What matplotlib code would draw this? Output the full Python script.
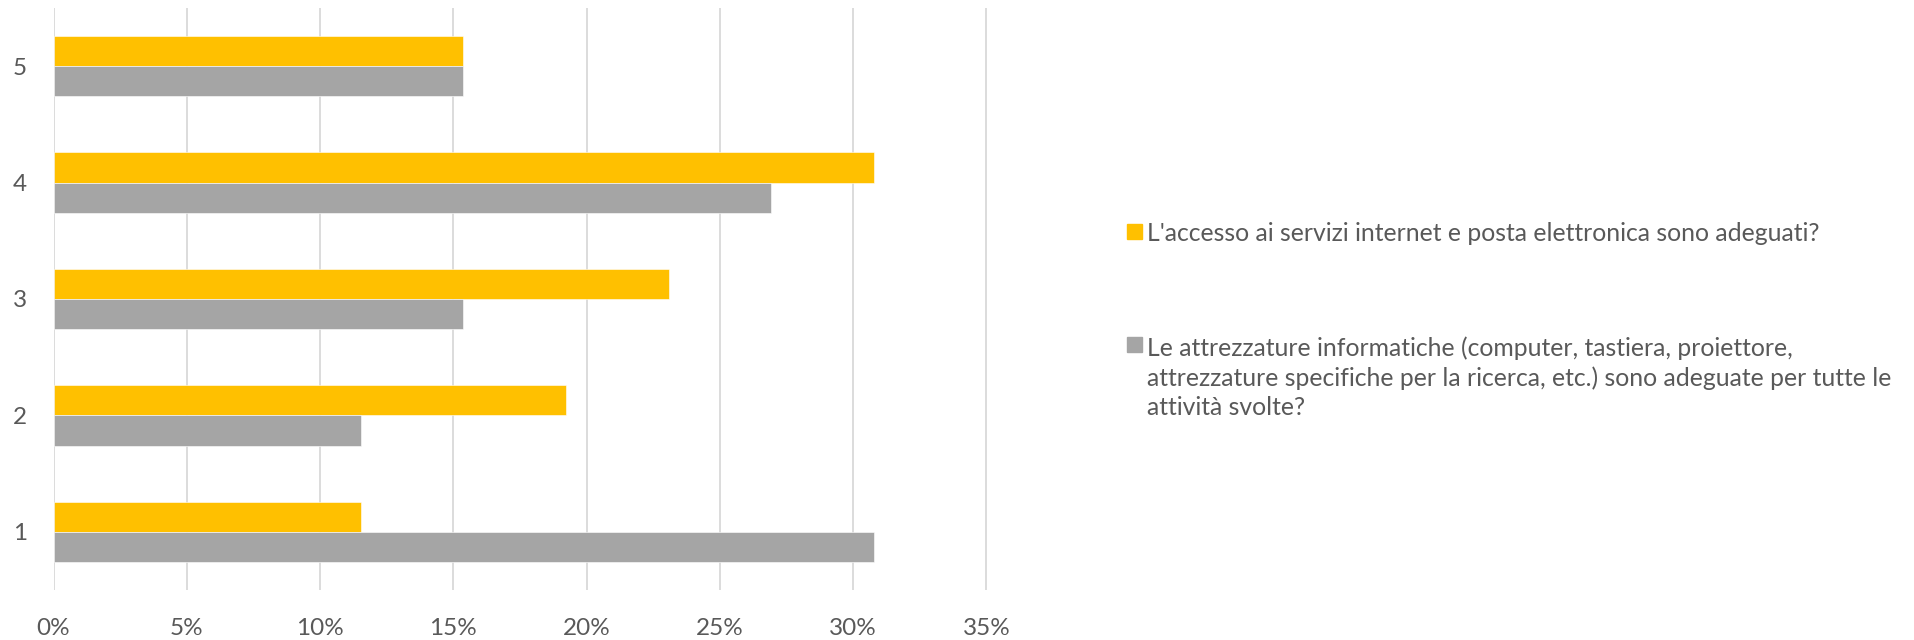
import matplotlib.pyplot as plt
from matplotlib.patches import Rectangle
from matplotlib.ticker import PercentFormatter

plt.rcParams['font.family'] = ['Lato', 'DejaVu Sans']

categories = ['1', '2', '3', '4', '5']
seriesNames = [
    "L'accesso ai servizi internet e posta elettronica sono adeguati?",
    "Le attrezzature informatiche (computer, tastiera, proiettore,\n"
    "attrezzature specifiche per la ricerca, etc.) sono adeguate per tutte le\n"
    "attività svolte?",
]
accessoVals = [11.54, 19.23, 23.08, 30.77, 15.38]
attrezzatureVals = [30.77, 11.54, 15.38, 26.92, 15.38]
xTicks = [0, 5, 10, 15, 20, 25, 30, 35]

orange = '#FFC000'
grey = '#A5A5A5'
textCol = '#595959'
barH = 0.26
W, H = 1914, 640

fig = plt.figure(figsize=(W / 100, H / 100), dpi=100)
ax = fig.add_axes([53.5 / W, 50 / H, 933 / W, 582 / H])

pos = range(1, len(categories) + 1)
ax.barh([p + barH / 2 for p in pos], accessoVals, height=barH, color=orange,
        edgecolor='white', linewidth=0.4, zorder=3)
ax.barh([p - barH / 2 for p in pos], attrezzatureVals, height=barH, color=grey,
        edgecolor='white', linewidth=0.4, zorder=3)

ax.set_xlim(0, 35)
ax.set_ylim(0.5, 5.5)
ax.set_xticks(xTicks)
ax.xaxis.set_major_formatter(PercentFormatter(decimals=0))
ax.set_yticks(list(pos))
ax.set_yticklabels(categories)
ax.grid(axis='x', color='#D9D9D9', linewidth=1.3, zorder=0)
for s in ax.spines.values():
    s.set_visible(False)
ax.tick_params(axis='both', length=0, labelsize=17.5, colors=textCol)
ax.tick_params(axis='x', pad=20)
ax.tick_params(axis='y', pad=19)

# Legend drawn by hand so the marker sits on the first line of wrapped text
#
legendColors = [orange, grey]
markerY = [231, 344]
baseY = [241, 353]
lineStep = 31
for name, col, my, by in zip(seriesNames, legendColors, markerY, baseY):
    fig.patches.append(Rectangle((1127 / W, 1 - (my + 7.5) / H), 15 / W, 15 / H,
                                 transform=fig.transFigure, color=col))
    lastBase = by + lineStep * name.count('\n')
    fig.text(1147 / W, 1 - lastBase / H, name, fontsize=17.8, color=textCol,
             va='baseline', ha='left', linespacing=1.33)

fig.savefig('out.png', dpi=100)
